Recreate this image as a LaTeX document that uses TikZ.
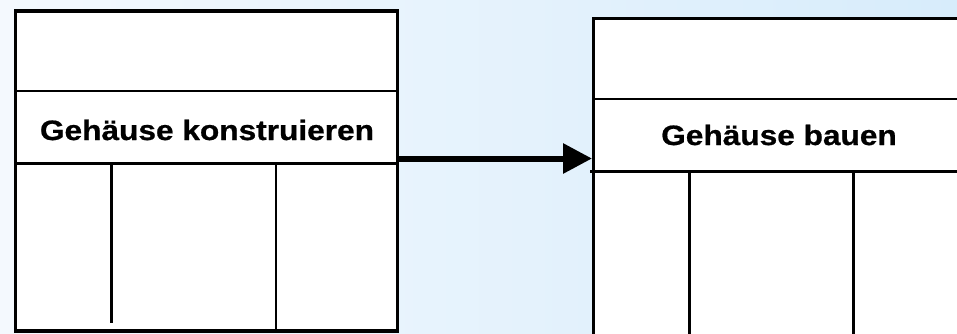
\documentclass[tikz,border=0pt]{standalone}
\usepackage{fontspec}
\setmainfont{Liberation Sans}
\newfontfamily\heavyfont[FakeBold=0.7]{Liberation Sans Bold}
\usetikzlibrary{arrows.meta}
\definecolor{bgleft}{HTML}{F4F9FE}
\definecolor{bgright}{HTML}{D7ECFB}
\tikzset{
  outerbox/.style={draw=black, fill=white, line width=3.3bp, rectangle, inner sep=0pt},
  divider/.style={line width=2.4bp},
  lbl/.style={font=\fontsize{28bp}{30bp}\heavyfont, inner sep=0pt, anchor=base},
  flow/.style={line width=6bp, -{Triangle[length=29bp,width=29bp]}}
}
\newcommand{\widetext}[1]{\scalebox{1.13}[1]{#1}}
\begin{document}
\begin{tikzpicture}[x=1bp,y=-1bp]
  \useasboundingbox (0,0) rectangle (957,333);
  \clip (0,0) rectangle (957,333);
  \shade[left color=bgleft, right color=bgright] (0,0) rectangle (957,333);

  % left box
  \node[outerbox, minimum width=382bp, minimum height=320bp, anchor=north west] (boxA) at (14,9.3) {};
  \draw[divider] (14,90.7) -- (396,90.7);
  \draw[divider] (14,163.3) -- (396,163.3);
  \draw[divider] (111.3,163.3) -- (111.3,323);
  \draw[divider] (276,163.3) -- (276,329);
  \node[lbl] (txtA) at (207,140) {\widetext{Gehäuse konstruieren}};

  % right box
  \node[outerbox, minimum width=400bp, minimum height=340bp, anchor=north west] (boxB) at (592,16.7) {};
  \draw[divider] (592,99) -- (995,99);
  \draw[divider] (590,171.3) -- (995,171.3);
  \draw[divider] (689.3,171.3) -- (689.3,360);
  \draw[divider] (853.3,171.3) -- (853.3,360);
  \node[lbl] (txtB) at (779,145) {\widetext{Gehäuse bauen}};

  % connector
  \coordinate (aout) at (boxA.east |- 0,158.5);
  \coordinate (bin) at (boxB.west |- 0,158.5);
  \draw[flow] (aout) -- (bin);
\end{tikzpicture}
\end{document}
